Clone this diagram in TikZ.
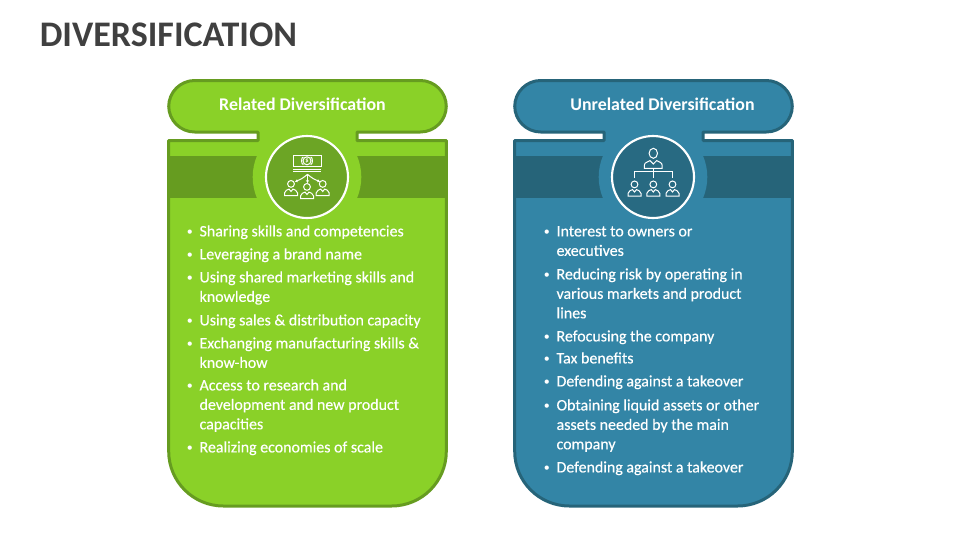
\documentclass[tikz,border=0pt]{standalone}
\usepackage{fontspec}
\usetikzlibrary{arrows.meta}
\setmainfont{Carlito}
\newfontfamily\itemfont[FakeBold=0.35]{Carlito}
\definecolor{relfill}{HTML}{8AD128}
\definecolor{relline}{HTML}{669C20}
\definecolor{relcirc}{HTML}{6CA525}
\definecolor{unrfill}{HTML}{3385A6}
\definecolor{unrline}{HTML}{266479}
\definecolor{unrcirc}{HTML}{286A82}
\definecolor{titlegray}{HTML}{404040}
\tikzset{
  cardline/.style = {line width = 2.25pt, line join = round},
  iconline/.style = {draw = white, line width = 0.75pt},
  icontip/.style = {iconline, -{Stealth[length = 2.2pt, width = 2.4pt]}},
  headtext/.style = {text = white, font = \fontsize{13.4}{15}\selectfont\bfseries},
  itemtext/.style = {text = white, anchor = north west, align = left, inner sep = 0pt,
    font = \fontsize{11.95}{14.6}\selectfont\itemfont},
  bullettext/.style = {itemtext, font = \fontsize{9}{14.6}\selectfont},
  personpic/.pic = {
    \draw [iconline] (0,-5.6) circle [radius = 3.4];
    \draw [iconline] (-6.5,6) -- (-6.5,3.4) .. controls (-6.5,0.6) and (-3,0.4) .. (-2,-0.4)
      -- (0,2) -- (2,-0.4) .. controls (3,0.4) and (6.5,0.6) .. (6.5,3.4) -- (6.5,6) -- cycle;
  }
}

\begin{document}
\begin{tikzpicture}[x = 0.75pt, y = -0.75pt]
        \useasboundingbox (0,0) rectangle (960,540);
        %Title
        \node [anchor = west, inner sep = 0pt, text = titlegray,
        font = \fontsize{27}{30}\selectfont\bfseries]
        (title)at(39.5,35){DIVERSIFICATION};

        %Cards
        \foreach \dx/\cfill/\cedge/\ccirc in {0/relfill/relline/relcirc, 346/unrfill/unrline/unrcirc}{
            \draw [cardline, draw = \cedge, fill = \cfill]
            (258+\dx,132) [rounded corners = 19.5pt] -- (168.7+\dx,132) -- (168.7+\dx,80.5)
            -- (446.3+\dx,80.5) -- (446.3+\dx,132) [sharp corners] -- (357+\dx,132)
            -- (357+\dx,140.5) -- (446.3+\dx,140.5) [rounded corners = 41pt] -- (446.3+\dx,506)
            -- (168.7+\dx,506) [sharp corners] -- (168.7+\dx,140.5) -- (258+\dx,140.5) -- cycle;
            %Band
            \fill [\cedge] (170+\dx,156) rectangle (445+\dx,198);
            \fill [\cfill] (307+\dx,177) circle [radius = 54.3];
            \draw [line width = 1.6pt, draw = white, fill = \ccirc] (307+\dx,177) circle [radius = 41];
        }

        %Headers
        \node [headtext] (relhead)at(302.5,104){Related Diversification};
        \node [headtext] (unrhead)at(662.5,104){Unrelated Diversification};

        %Money icon
        \draw [iconline] (293.3,155) rectangle (321,166.7);
        \draw [iconline] (307,160.8) circle [radius = 4];
        \draw [iconline] (301.5,160.8) .. controls (301.5,158) and (302.5,157.3) .. (303.4,157);
        \draw [iconline] (301.5,160.8) .. controls (301.5,163.6) and (302.5,164.3) .. (303.4,164.6);
        \draw [iconline] (312.5,160.8) .. controls (312.5,158) and (311.5,157.3) .. (310.6,157);
        \draw [iconline] (312.5,160.8) .. controls (312.5,163.6) and (311.5,164.3) .. (310.6,164.6);
        \node [text = white, inner sep = 0pt, font = \fontsize{4.8}{5}\selectfont\bfseries] (dollar)at(307,160.8){\$};
        \draw [iconline] (293.3,169.3) -- (321,169.3);
        \draw [iconline] (293.3,171.8) -- (321,171.8);
        \coordinate (moneyout) at (307.5,174.3);
        \coordinate (leftin) at (295,181.7);
        \coordinate (midin) at (307.5,183);
        \coordinate (rightin) at (320,181.7);
        \draw [icontip] (moneyout) to [bend left = 10] (leftin);
        \draw [icontip] (moneyout) -- (midin);
        \draw [icontip] (moneyout) to [bend right = 10] (rightin);
        \pic at (291,189.5) {personpic};
        \pic at (307,192.5) {personpic};
        \pic at (322.7,189.5) {personpic};

        %Org icon
        \draw [iconline] (653.3,153.3) ellipse [x radius = 4.2, y radius = 5];
        \draw [iconline] (644.3,168.3) -- (644.3,165.4) .. controls (644.3,162) and (648.6,162) .. (650,160.6)
        -- (653.3,164) -- (656.6,160.6) .. controls (658,162) and (662.2,162) .. (662.2,165.4) -- (662.2,168.3) -- cycle;
        \draw [iconline] (653.3,168.3) -- (653.3,178.3);
        \draw [iconline] (634.3,178.3) -- (634.3,171.2) -- (672.7,171.2) -- (672.7,178.3);
        \pic at (634.5,190) {personpic};
        \pic at (653.3,190) {personpic};
        \pic at (672.5,190) {personpic};

        %Related list
        \foreach \liney/\rowtext in {
            231/{Sharing skills and competencies},
            254/{Leveraging a brand name},
            277/{Using shared marketing skills and\\knowledge},
            320/{Using sales \& distribution capacity},
            343/{Exchanging manufacturing skills \&\\know-how},
            385/{Access to research and\\development and new product\\capacities},
            447/{Realizing economies of scale}}{
            \node [bullettext] at (186.5,\liney-8.5) {\strut\raisebox{0.6pt}{•}};
            \node [itemtext] at (199.3,\liney-8.5) {\strut\rowtext};
        }

        %Unrelated list
        \foreach \liney/\rowtext in {
            231/{Interest to owners or\\executives},
            274/{Reducing risk by operating in\\various markets and product\\lines},
            336/{Refocusing the company},
            358/{Tax benefits},
            381/{Defending against a takeover},
            405/{Obtaining liquid assets or other\\assets needed by the main\\company},
            467/{Defending against a takeover}}{
            \node [bullettext] at (543.5,\liney-8.5) {\strut\raisebox{0.6pt}{•}};
            \node [itemtext] at (556.3,\liney-8.5) {\strut\rowtext};
        }
    \end{tikzpicture}
\end{document}
